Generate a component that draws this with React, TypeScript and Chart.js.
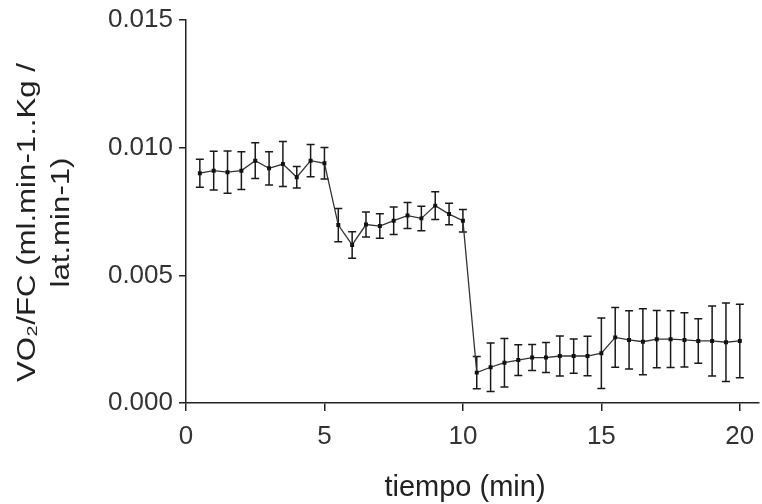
import { useEffect, useRef } from 'react';
import { Chart, registerables } from 'chart.js';

Chart.register(...registerables);

const times = [0.5, 1, 1.5, 2, 2.5, 3, 3.5, 4, 4.5, 5, 5.5, 6, 6.5, 7, 7.5, 8, 8.5, 9, 9.5, 10,
  10.5, 11, 11.5, 12, 12.5, 13, 13.5, 14, 14.5, 15, 15.5, 16, 16.5, 17, 17.5, 18, 18.5, 19, 19.5, 20];

const values = [0.00900, 0.00910, 0.00904, 0.00910, 0.00949, 0.00919, 0.00936, 0.00884, 0.00949, 0.00939,
  0.00697, 0.00619, 0.00699, 0.00693, 0.00714, 0.00734, 0.00723, 0.00773, 0.00740, 0.00714,
  0.00119, 0.00140, 0.00158, 0.00168, 0.00178, 0.00178, 0.00184, 0.00184, 0.00184, 0.00195,
  0.00257, 0.00247, 0.00240, 0.00250, 0.00250, 0.00247, 0.00243, 0.00243, 0.00238, 0.00243];

const errors = [0.00055, 0.00076, 0.00083, 0.00074, 0.00070, 0.00065, 0.00088, 0.00042, 0.00063, 0.00062,
  0.00065, 0.00052, 0.00049, 0.00048, 0.00054, 0.00051, 0.00048, 0.00054, 0.00042, 0.00044,
  0.00063, 0.00095, 0.00095, 0.00060, 0.00051, 0.00059, 0.00078, 0.00067, 0.00077, 0.00138,
  0.00117, 0.00114, 0.00129, 0.00112, 0.00111, 0.00106, 0.00087, 0.00137, 0.00154, 0.00144];

const xTickValues = [0, 5, 10, 15, 20];
const yTickValues = [0, 0.005, 0.01, 0.015];
const yTitleLines = ['VO\u2082/FC (ml.min-1..Kg /', 'lat.min-1)'];
const xTitleText = 'tiempo (min)';

const FONT = '"Liberation Sans", Arial, sans-serif';
const INK = '#222';

const errorBarPlugin = {
  id: 'errorBars',
  beforeDatasetsDraw(chart: any) {
    const { ctx, scales } = chart;
    const xs = scales.x;
    const ys = scales.y;
    ctx.save();
    ctx.strokeStyle = '#1a1a1a';
    ctx.lineWidth = 1.5;
    const cap = 4;
    times.forEach((t, i) => {
      const px = xs.getPixelForValue(t);
      const top = ys.getPixelForValue(values[i] + errors[i]);
      const bot = ys.getPixelForValue(values[i] - errors[i]);
      ctx.beginPath();
      ctx.moveTo(px, top);
      ctx.lineTo(px, bot);
      ctx.moveTo(px - cap, top);
      ctx.lineTo(px + cap, top);
      ctx.moveTo(px - cap, bot);
      ctx.lineTo(px + cap, bot);
      ctx.stroke();
    });
    ctx.restore();
  },
};

const titlePlugin = {
  id: 'axisTitles',
  afterDraw(chart: any) {
    const { ctx, chartArea } = chart;
    ctx.save();
    ctx.fillStyle = INK;
    ctx.textAlign = 'center';
    ctx.textBaseline = 'middle';
    ctx.font = `29px ${FONT}`;
    ctx.fillText(xTitleText, 465, 488);
    ctx.restore();

    ctx.save();
    ctx.fillStyle = INK;
    ctx.textAlign = 'center';
    ctx.textBaseline = 'middle';
    ctx.font = `26px ${FONT}`;
    const cy = (chartArea.top + chartArea.bottom) / 2 + 11;
    const xsPos = [28, 62];
    yTitleLines.forEach((line, i) => {
      ctx.save();
      ctx.translate(xsPos[i], cy);
      ctx.rotate(-Math.PI / 2);
      ctx.scale(1.2, 1);
      ctx.fillText(line, 0, 0);
      ctx.restore();
    });
    ctx.restore();
  },
};

export default function App() {
  const canvasRef = useRef<HTMLCanvasElement | null>(null);

  useEffect(() => {
    document.body.style.margin = '0';
    const canvas = canvasRef.current;
    if (!canvas) return;
    const chart = new Chart(canvas, {
      type: 'scatter',
      data: {
        datasets: [
          {
            data: times.map((t, i) => ({ x: t, y: values[i] })),
            showLine: true,
            borderColor: '#333',
            borderWidth: 1.3,
            pointRadius: 2.8,
            pointStyle: 'rect',
            pointBackgroundColor: '#111',
            pointBorderWidth: 0,
            pointHoverRadius: 2.8,
          },
        ],
      },
      options: {
        animation: false,
        responsive: true,
        maintainAspectRatio: false,
        layout: { padding: { top: 20, right: 0, left: 0, bottom: 0 } },
        plugins: {
          legend: { display: false },
          tooltip: { enabled: false },
        },
        scales: {
          x: {
            type: 'linear',
            min: 0,
            max: 20.7,
            afterBuildTicks: (s: any) => {
              s.ticks = xTickValues.map((v) => ({ value: v }));
            },
            afterFit: (s: any) => {
              s.height = 101;
              s.paddingLeft = 0;
              s.paddingRight = 0;
            },
            ticks: {
              color: '#333',
              font: { family: FONT, size: 26 },
              padding: 10,
              maxRotation: 0,
              autoSkip: false,
              callback: (v: any) => String(v),
            },
            grid: {
              display: true,
              drawOnChartArea: false,
              drawTicks: true,
              tickLength: 8,
              color: INK,
              lineWidth: 1.5,
            },
            border: { display: true, color: INK, width: 1.5 },
          },
          y: {
            type: 'linear',
            min: 0,
            max: 0.015,
            afterBuildTicks: (s: any) => {
              s.ticks = yTickValues.map((v) => ({ value: v }));
            },
            afterFit: (s: any) => {
              s.width = 186;
              s.paddingTop = 0;
              s.paddingBottom = 0;
            },
            ticks: {
              color: '#333',
              font: { family: FONT, size: 26 },
              padding: 6,
              autoSkip: false,
              callback: (v: any) => Number(v).toFixed(3),
            },
            grid: {
              display: true,
              drawOnChartArea: false,
              drawTicks: true,
              tickLength: 7,
              color: INK,
              lineWidth: 1.5,
            },
            border: { display: true, color: INK, width: 1.5 },
          },
        },
      },
      plugins: [errorBarPlugin, titlePlugin],
    });
    return () => chart.destroy();
  }, []);

  return (
    <div style={{ width: 762, height: 504, position: 'relative' }}>
      <canvas ref={canvasRef} />
    </div>
  );
}
